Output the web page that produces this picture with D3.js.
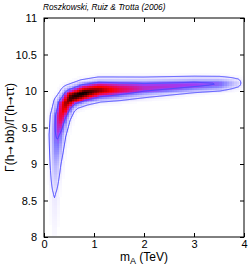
<!DOCTYPE html>
<html>
<head>
<meta charset="utf-8">
<script src="https://cdn.jsdelivr.net/npm/d3@7"></script>
<style>
  body { margin: 0; background: #fff; }
  svg { display: block; font-family: "Liberation Sans", Arial, sans-serif; }
  .axis text { font-size: 11px; fill: #000; }
</style>
</head>
<body>
<div class="chart"></div>
<script>
var totalWidth = 249;
var totalHeight = 268;

var margin = { top: 18, left: 44, bottom: 31, right: 5 };
var width = totalWidth - margin.left - margin.right;
var height = totalHeight - margin.top - margin.bottom;

// DATA: ridge of the posterior band
var ridgeMA = [0.20, 0.21, 0.23, 0.27, 0.33, 0.42, 0.55, 0.80, 1.10, 1.50, 2.00, 2.50, 3.00, 3.50, 3.85];
var ridgeRatio = [8.05, 8.60, 9.00, 9.40, 9.65, 9.82, 9.92, 9.98, 10.02, 10.03, 10.05, 10.07, 10.09, 10.10, 10.11];
var ridgeDensity = [0.02, 0.065, 0.18, 0.38, 0.62, 0.80, 0.95, 1.00, 0.84, 0.62, 0.46, 0.43, 0.40, 0.34, 0.12];
var ridgeSpread = [0.030, 0.040, 0.050, 0.060, 0.065, 0.070, 0.075, 0.075, 0.075, 0.075, 0.070, 0.064, 0.058, 0.054, 0.050];

var contourLevels = [0.06, 0.35];
var xTicks = [0, 1, 2, 3, 4];
var yTicks = [8, 8.5, 9, 9.5, 10, 10.5, 11];

var xScale = d3.scaleLinear().domain([0, 4]).range([0, width]);
var yScale = d3.scaleLinear().domain([8, 11]).range([height, 0]);

var colour = d3.scaleLinear()
  .domain([0, 0.06, 0.18, 0.3, 0.4, 0.55, 0.7, 0.88, 1])
  .range(["#ffffff", "#ece8ff", "#b8b4ff", "#8078ff", "#a03cf5", "#e0107a", "#ff0000", "#700000", "#000000"])
  .clamp(true);

// ridge in pixel space
var ridge = ridgeMA.map(function(m, i) {
  return {
    px: xScale(m),
    py: yScale(ridgeRatio[i]),
    w: ridgeDensity[i],
    s: Math.abs(yScale(8) - yScale(8 + ridgeSpread[i]))
  };
});

function density(m, r) {
  var px = xScale(m), py = yScale(r);
  var best = 0;
  for (var i = 0; i < ridge.length - 1; i++) {
    var a = ridge[i], b = ridge[i + 1];
    var dx = b.px - a.px, dy = b.py - a.py;
    var t = ((px - a.px) * dx + (py - a.py) * dy) / (dx * dx + dy * dy);
    t = Math.max(0, Math.min(1, t));
    var ex = a.px + t * dx - px, ey = a.py + t * dy - py;
    var w = a.w + t * (b.w - a.w);
    var s = a.s + t * (b.s - a.s);
    var v = w * Math.exp(-(ex * ex + ey * ey) / (2 * s * s));
    if (v > best) best = v;
  }
  return best;
}

var svg = d3.select(".chart")
  .append("svg")
  .attr("width", totalWidth)
  .attr("height", totalHeight);

var mainGroup = svg.append("g")
  .attr("transform", "translate(" + margin.left + "," + margin.top + ")");

// density cells
var cellX = 0.05, cellY = 0.025;
var cells = [];
for (var m = 0; m < 4; m += cellX) {
  for (var r = 8; r < 11; r += cellY) {
    var v = density(m + cellX / 2, r + cellY / 2);
    if (v > 0.008) cells.push({ m: m, r: r, v: v });
  }
}

mainGroup.append("g")
  .attr("shape-rendering", "crispEdges")
  .selectAll("rect")
  .data(cells)
  .enter()
  .append("rect")
  .attr("x", function(d) { return xScale(d.m); })
  .attr("y", function(d) { return yScale(d.r + cellY); })
  .attr("width", xScale(cellX) - xScale(0) + 0.5)
  .attr("height", yScale(8) - yScale(8 + cellY) + 0.5)
  .attr("fill", function(d) { return colour(d.v); });

// contours on a finer grid
var nx = 200, ny = 220;
var dxg = 4 / nx, dyg = 3 / ny;
var values = new Array(nx * ny);
for (var j = 0; j < ny; j++) {
  for (var i = 0; i < nx; i++) {
    values[i + j * nx] = density((i + 0.5) * dxg, 8 + (j + 0.5) * dyg);
  }
}

var contours = d3.contours().size([nx, ny]).thresholds(contourLevels)(values);
var toPlot = d3.geoTransform({
  point: function(x, y) {
    this.stream.point(xScale(x * dxg), yScale(8 + y * dyg));
  }
});

mainGroup.append("g")
  .selectAll("path")
  .data(contours)
  .enter()
  .append("path")
  .attr("d", d3.geoPath(toPlot))
  .attr("fill", "none")
  .attr("stroke", "#4646ff")
  .attr("stroke-width", 1);

// axes, ticks inward on all four sides
var tick = 4;
mainGroup.append("g")
  .attr("class", "axis")
  .attr("transform", "translate(0," + height + ")")
  .call(d3.axisBottom(xScale).tickValues(xTicks).tickFormat(d3.format("d")).tickSizeInner(-tick).tickSizeOuter(0).tickPadding(3))
  .call(function(g) { g.select(".domain").remove(); });

mainGroup.append("g")
  .attr("class", "axis")
  .call(d3.axisTop(xScale).tickValues(xTicks).tickFormat("").tickSizeInner(-tick).tickSizeOuter(0))
  .call(function(g) { g.select(".domain").remove(); });

mainGroup.append("g")
  .attr("class", "axis")
  .call(d3.axisLeft(yScale).tickValues(yTicks).tickFormat(d3.format("")).tickSizeInner(-tick).tickSizeOuter(0).tickPadding(7))
  .call(function(g) { g.select(".domain").remove(); });

mainGroup.append("g")
  .attr("class", "axis")
  .attr("transform", "translate(" + width + ",0)")
  .call(d3.axisRight(yScale).tickValues(yTicks).tickFormat("").tickSizeInner(-tick).tickSizeOuter(0))
  .call(function(g) { g.select(".domain").remove(); });

mainGroup.selectAll(".tick line").attr("stroke", "#000");

mainGroup.append("rect")
  .attr("width", width)
  .attr("height", height)
  .attr("fill", "none")
  .attr("stroke", "#000")
  .attr("stroke-width", 1);

// labels
svg.append("text")
  .attr("x", margin.left - 1)
  .attr("y", 10)
  .attr("font-size", 8.3)
  .attr("font-style", "italic")
  .text("Roszkowski, Ruiz & Trotta (2006)");

var xLabel = svg.append("text")
  .attr("x", margin.left + width / 2)
  .attr("y", 261)
  .attr("text-anchor", "middle")
  .attr("font-size", 12);
xLabel.append("tspan").text("m");
xLabel.append("tspan").attr("font-size", 9).attr("dy", 3).text("A");
xLabel.append("tspan").attr("dy", -3).text(" (TeV)");

var yLabel = svg.append("text")
  .attr("transform", "translate(14," + (margin.top + height / 2) + ") rotate(-90)")
  .attr("text-anchor", "middle")
  .attr("font-size", 12);
yLabel.append("tspan").text("Γ(h");
yLabel.append("tspan").attr("font-family", "DejaVu Sans").attr("font-size", 10).text("→");
yLabel.append("tspan").text(" bb)/Γ(h");
yLabel.append("tspan").attr("font-family", "DejaVu Sans").attr("font-size", 10).text("→");
yLabel.append("tspan").text("ττ)");
</script>
</body>
</html>
